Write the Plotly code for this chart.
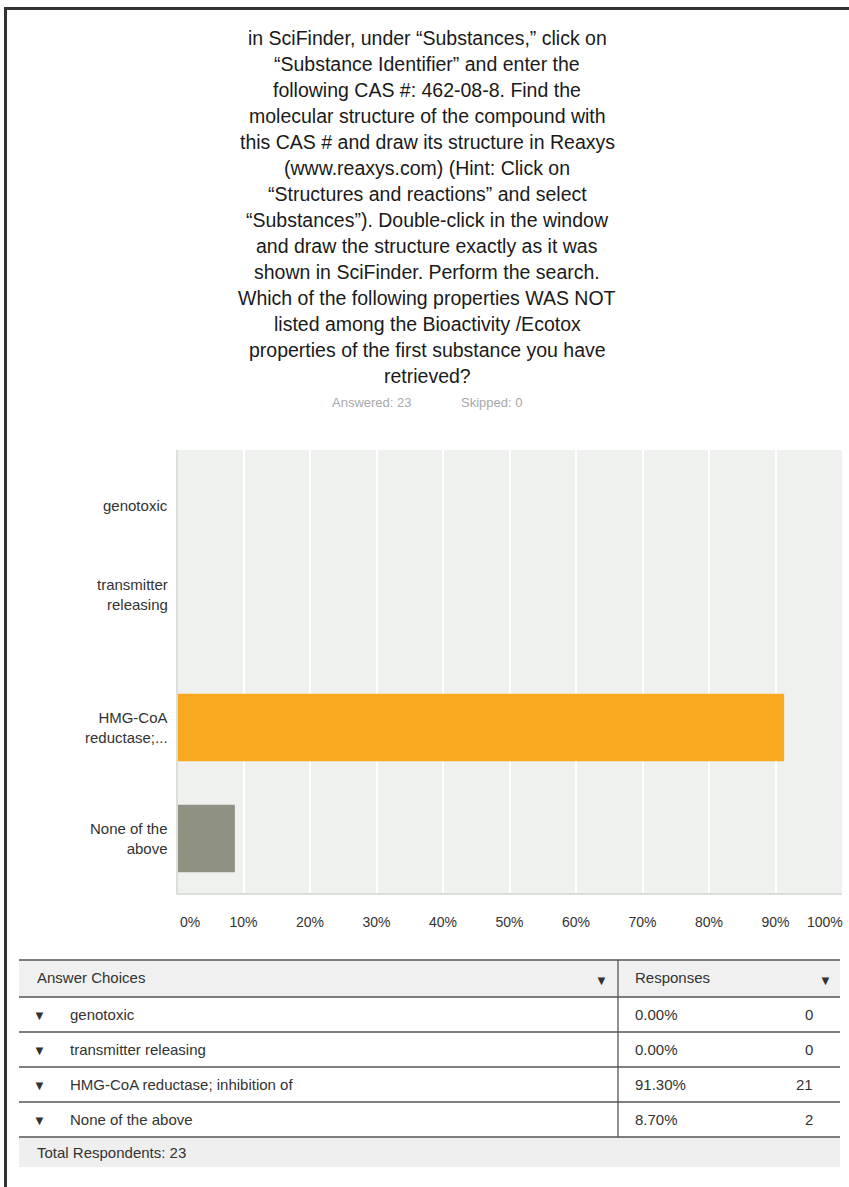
import plotly.graph_objects as go

# Survey results
categories = ["genotoxic", "transmitter releasing", "HMG-CoA reductase; inhibition of", "None of the above"]
axis_labels = ["genotoxic", "transmitter<br>releasing", "HMG-CoA<br>reductase;...", "None of the<br>above"]
label_shift = [0, 22, 0, 0]
percents = [0.0, 0.0, 91.30, 8.70]
counts = [0, 0, 21, 2]
bar_colors = ["#f9a920", "#f9a920", "#f9a920", "#8f9183"]
answered = 23
skipped = 0

question_lines = [
    "in SciFinder, under \u201cSubstances,\u201d click on",
    "\u201cSubstance Identifier\u201d and enter the",
    "following CAS #: 462-08-8. Find the",
    "molecular structure of the compound with",
    "this CAS # and draw its structure in Reaxys",
    "(www.reaxys.com) (Hint: Click on",
    "\u201cStructures and reactions\u201d and select",
    "\u201cSubstances\u201d). Double-click in the window",
    "and draw the structure exactly as it was",
    "shown in SciFinder. Perform the search.",
    "Which of the following properties WAS NOT",
    "listed among the Bioactivity /Ecotox",
    "properties of the first substance you have",
    "retrieved?",
]

x_ticks = [10, 20, 30, 40, 50, 60, 70, 80, 90]

W, H = 849, 1187
FONT = "Arial, Liberation Sans, sans-serif"


def px(x):
    return x / W


def py(y):
    return 1 - y / H


fig = go.Figure()
fig.add_trace(go.Bar(
    y=categories,
    x=percents,
    orientation="h",
    marker=dict(color=bar_colors, line=dict(width=0)),
    hoverinfo="skip",
))

shapes = []
annotations = []

# page frame (top and left rules)
shapes.append(dict(type="rect", xref="paper", yref="paper", x0=px(4), x1=px(849), y0=py(10), y1=py(7),
                   fillcolor="#333333", line=dict(width=0), layer="above"))
shapes.append(dict(type="rect", xref="paper", yref="paper", x0=px(4), x1=px(7), y0=py(1187), y1=py(7),
                   fillcolor="#333333", line=dict(width=0), layer="above"))

# question text
for i, line in enumerate(question_lines):
    annotations.append(dict(text=line, xref="paper", yref="paper", x=px(427), y=py(38 + 26 * i),
                            xanchor="center", yanchor="middle", showarrow=False,
                            font=dict(family=FONT, size=19.5, color="#1a1a1a")))

annotations.append(dict(text=f"Answered: {answered}", xref="paper", yref="paper", x=px(330), y=py(402),
                        xanchor="left", yanchor="middle", showarrow=False,
                        font=dict(family=FONT, size=13, color="#a9a9a9")))
annotations.append(dict(text=f"Skipped: {skipped}", xref="paper", yref="paper", x=px(459), y=py(402),
                        xanchor="left", yanchor="middle", showarrow=False,
                        font=dict(family=FONT, size=13, color="#a9a9a9")))

# category labels placed on the y scale
for cat, lab, sh in zip(categories, axis_labels, label_shift):
    annotations.append(dict(text=lab, xref="paper", yref="y", x=px(170), y=cat, yshift=sh,
                            xanchor="right", yanchor="middle", align="right", showarrow=False,
                            font=dict(family=FONT, size=15, color="#333333")))

# edge tick labels kept inside the plotting area
annotations.append(dict(text="0%", xref="paper", yref="paper", x=px(178), y=py(922),
                        xanchor="left", yanchor="middle", showarrow=False,
                        font=dict(family=FONT, size=14, color="#333333")))
annotations.append(dict(text="100%", xref="paper", yref="paper", x=px(845), y=py(922),
                        xanchor="right", yanchor="middle", showarrow=False,
                        font=dict(family=FONT, size=14, color="#333333")))

# plot frame accents (left and bottom)
shapes.append(dict(type="line", xref="paper", yref="paper", x0=px(177), x1=px(177), y0=py(894), y1=py(450),
                   line=dict(color="#dcdedc", width=2), layer="above"))
shapes.append(dict(type="line", xref="paper", yref="paper", x0=px(177), x1=px(842), y0=py(894), y1=py(894),
                   line=dict(color="#dcdedc", width=2), layer="above"))

# ---- answer table ----
T_L, T_R, T_DIV = 19, 840, 618
header_top, header_bot = 960, 997
row_h = 35
n = len(categories)
rows_bot = header_bot + n * row_h
total_bot = rows_bot + 30

shapes.append(dict(type="rect", xref="paper", yref="paper", x0=px(T_L), x1=px(T_R), y0=py(header_bot), y1=py(header_top),
                   fillcolor="#f0f0f0", line=dict(width=0)))
shapes.append(dict(type="rect", xref="paper", yref="paper", x0=px(T_L), x1=px(T_R), y0=py(total_bot), y1=py(rows_bot),
                   fillcolor="#efefef", line=dict(width=0)))
for yy in [header_top] + [header_bot + k * row_h for k in range(n + 1)]:
    shapes.append(dict(type="line", xref="paper", yref="paper", x0=px(T_L), x1=px(T_R), y0=py(yy), y1=py(yy),
                       line=dict(color="#555555", width=1.3)))
shapes.append(dict(type="line", xref="paper", yref="paper", x0=px(T_DIV), x1=px(T_DIV), y0=py(rows_bot), y1=py(header_top),
                   line=dict(color="#555555", width=1.3)))


def tbl_text(text, x, y, anchor="left", size=15):
    annotations.append(dict(text=text, xref="paper", yref="paper", x=px(x), y=py(y),
                            xanchor=anchor, yanchor="middle", showarrow=False,
                            font=dict(family=FONT, size=size, color="#333333")))


hy = (header_top + header_bot) / 2
tbl_text("Answer Choices", 35, hy - 1)
tbl_text("Responses", 633, hy - 1)
tbl_text("\u25BC", 601, hy + 2, "center", 13)
tbl_text("\u25BC", 825, hy + 2, "center", 13)

for k, (cat, pct, cnt) in enumerate(zip(categories, percents, counts)):
    cy = header_bot + k * row_h + row_h / 2
    tbl_text("\u25BC", 39, cy + 1, "center", 13)
    tbl_text(cat, 68, cy)
    tbl_text(f"{pct:.2f}%", 633, cy)
    tbl_text(str(cnt), 815, cy, "right")

tbl_text(f"Total Respondents: {answered}", 35, (rows_bot + total_bot) / 2)

fig.update_layout(
    width=W, height=H,
    margin=dict(l=0, r=0, t=0, b=0),
    paper_bgcolor="white",
    plot_bgcolor="#eff1ef",
    showlegend=False,
    bargap=0.39,
    shapes=shapes,
    annotations=annotations,
    font=dict(family=FONT, color="#333333"),
    xaxis=dict(
        domain=[px(177), px(842)],
        range=[0, 100],
        tickvals=x_ticks,
        ticktext=[f"{v}%" for v in x_ticks],
        tickfont=dict(family=FONT, size=14, color="#333333"),
        showgrid=True, gridcolor="#ffffff", gridwidth=2,
        zeroline=False, showline=False, ticks="", ticklen=0,
        fixedrange=True,
        anchor="y",
        ticklabelstandoff=18,
    ),
    yaxis=dict(
        domain=[py(894), py(450)],
        categoryorder="array",
        categoryarray=categories[::-1],
        showticklabels=False,
        showgrid=False, zeroline=False, showline=False, ticks="",
        fixedrange=True,
    ),
)

fig.write_html("out.html")
